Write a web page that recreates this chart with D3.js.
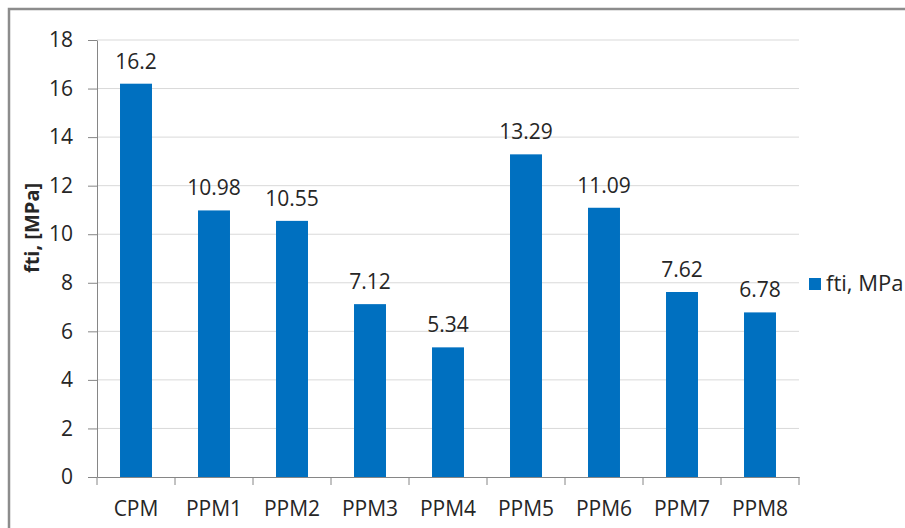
<!DOCTYPE html>
<html>
<head>
<meta charset="UTF-8">
<title>fti chart</title>
<script src="https://cdn.jsdelivr.net/npm/d3@7"></script>
<style>
    body{ margin:0px; background:white; }
    text{ font-family: "Open Sans", sans-serif; fill:#262626; }
</style>
</head>
<body>
<svg id="chart"></svg>
<script>
    const categories = ['CPM','PPM1','PPM2','PPM3','PPM4','PPM5','PPM6','PPM7','PPM8'];
    const values = [16.2, 10.98, 10.55, 7.12, 5.34, 13.29, 11.09, 7.62, 6.78];
    const labels = ['16.2','10.98','10.55','7.12','5.34','13.29','11.09','7.62','6.78'];
    const yTicks = [0,2,4,6,8,10,12,14,16,18];
    const seriesName = 'fti, MPa';
    const yTitle = 'fti, [MPa]';

    const w = 905, h = 528;
    const fs = '21px';
    const svg = d3.select('#chart').attr('width',w).attr('height',h);

    // cadre
    svg.append('rect').attr('x',0).attr('y',0).attr('width',w).attr('height',h).attr('fill','white');
    svg.append('path').attr('d','M9,'+h+'V9H'+w)
        .attr('fill','none').attr('stroke','#8c8c8c').attr('stroke-width',2.5);

    const pLeft = 97, pRight = 799, pTop = 40, pBottom = 477;
    const x = d3.scaleBand().domain(categories).range([pLeft,pRight]).paddingInner(0.59).paddingOuter(0.295);
    const xb = d3.scaleBand().domain(categories).range([pLeft,pRight]);
    const y = d3.scaleLinear().domain([0,18]).range([pBottom,pTop]);

    // grille
    svg.append('g').selectAll('line').data(yTicks.filter(d=>d>0)).join('line')
        .attr('x1',pLeft).attr('x2',pRight)
        .attr('y1',d=>y(d)).attr('y2',d=>y(d))
        .attr('stroke','#d9d9d9').attr('stroke-width',1);

    // barres
    svg.append('g').selectAll('rect').data(values).join('rect')
        .attr('x',(d,i)=>x(categories[i]))
        .attr('width',x.bandwidth())
        .attr('y',d=>y(d))
        .attr('height',d=>pBottom-y(d))
        .attr('fill','#0070c0');

    // etiquettes
    svg.append('g').selectAll('text').data(values).join('text')
        .attr('x',(d,i)=>x(categories[i])+x.bandwidth()/2)
        .attr('y',d=>y(d)-15)
        .attr('text-anchor','middle')
        .attr('font-size',fs)
        .text((d,i)=>labels[i]);

    // axe y
    const ay = svg.append('g').attr('transform','translate('+pLeft+',0)')
        .call(d3.axisLeft(y).tickValues(yTicks).tickSize(9).tickPadding(15).tickSizeOuter(0));
    ay.select('.domain').attr('stroke','#868686');
    ay.selectAll('.tick line').attr('stroke','#868686');
    ay.selectAll('.tick text').attr('font-size',fs).attr('font-family','"Open Sans", sans-serif').attr('fill','#262626');

    // axe x
    const ax = svg.append('g').attr('transform','translate(0,'+pBottom+')')
        .call(d3.axisBottom(xb).tickSize(0).tickPadding(24).tickSizeOuter(0));
    ax.select('.domain').attr('stroke','#868686');
    ax.selectAll('.tick text').attr('font-size',fs).attr('font-family','"Open Sans", sans-serif').attr('fill','#262626');
    svg.append('g').selectAll('line').data(categories.concat(['end'])).join('line')
        .attr('x1',(d,i)=>pLeft+i*xb.bandwidth()).attr('x2',(d,i)=>pLeft+i*xb.bandwidth())
        .attr('y1',pBottom).attr('y2',pBottom+8)
        .attr('stroke','#868686');

    // titre y
    svg.append('text')
        .attr('transform','translate(39,228) rotate(-90)')
        .attr('text-anchor','middle')
        .attr('font-size','20px').attr('font-weight','bold')
        .text(yTitle);

    // legende
    svg.append('rect').attr('x',809).attr('y',278).attr('width',12).attr('height',12).attr('fill','#0070c0');
    svg.append('text').attr('x',826).attr('y',291).attr('font-size','22px').text(seriesName);
</script>
</body>
</html>
